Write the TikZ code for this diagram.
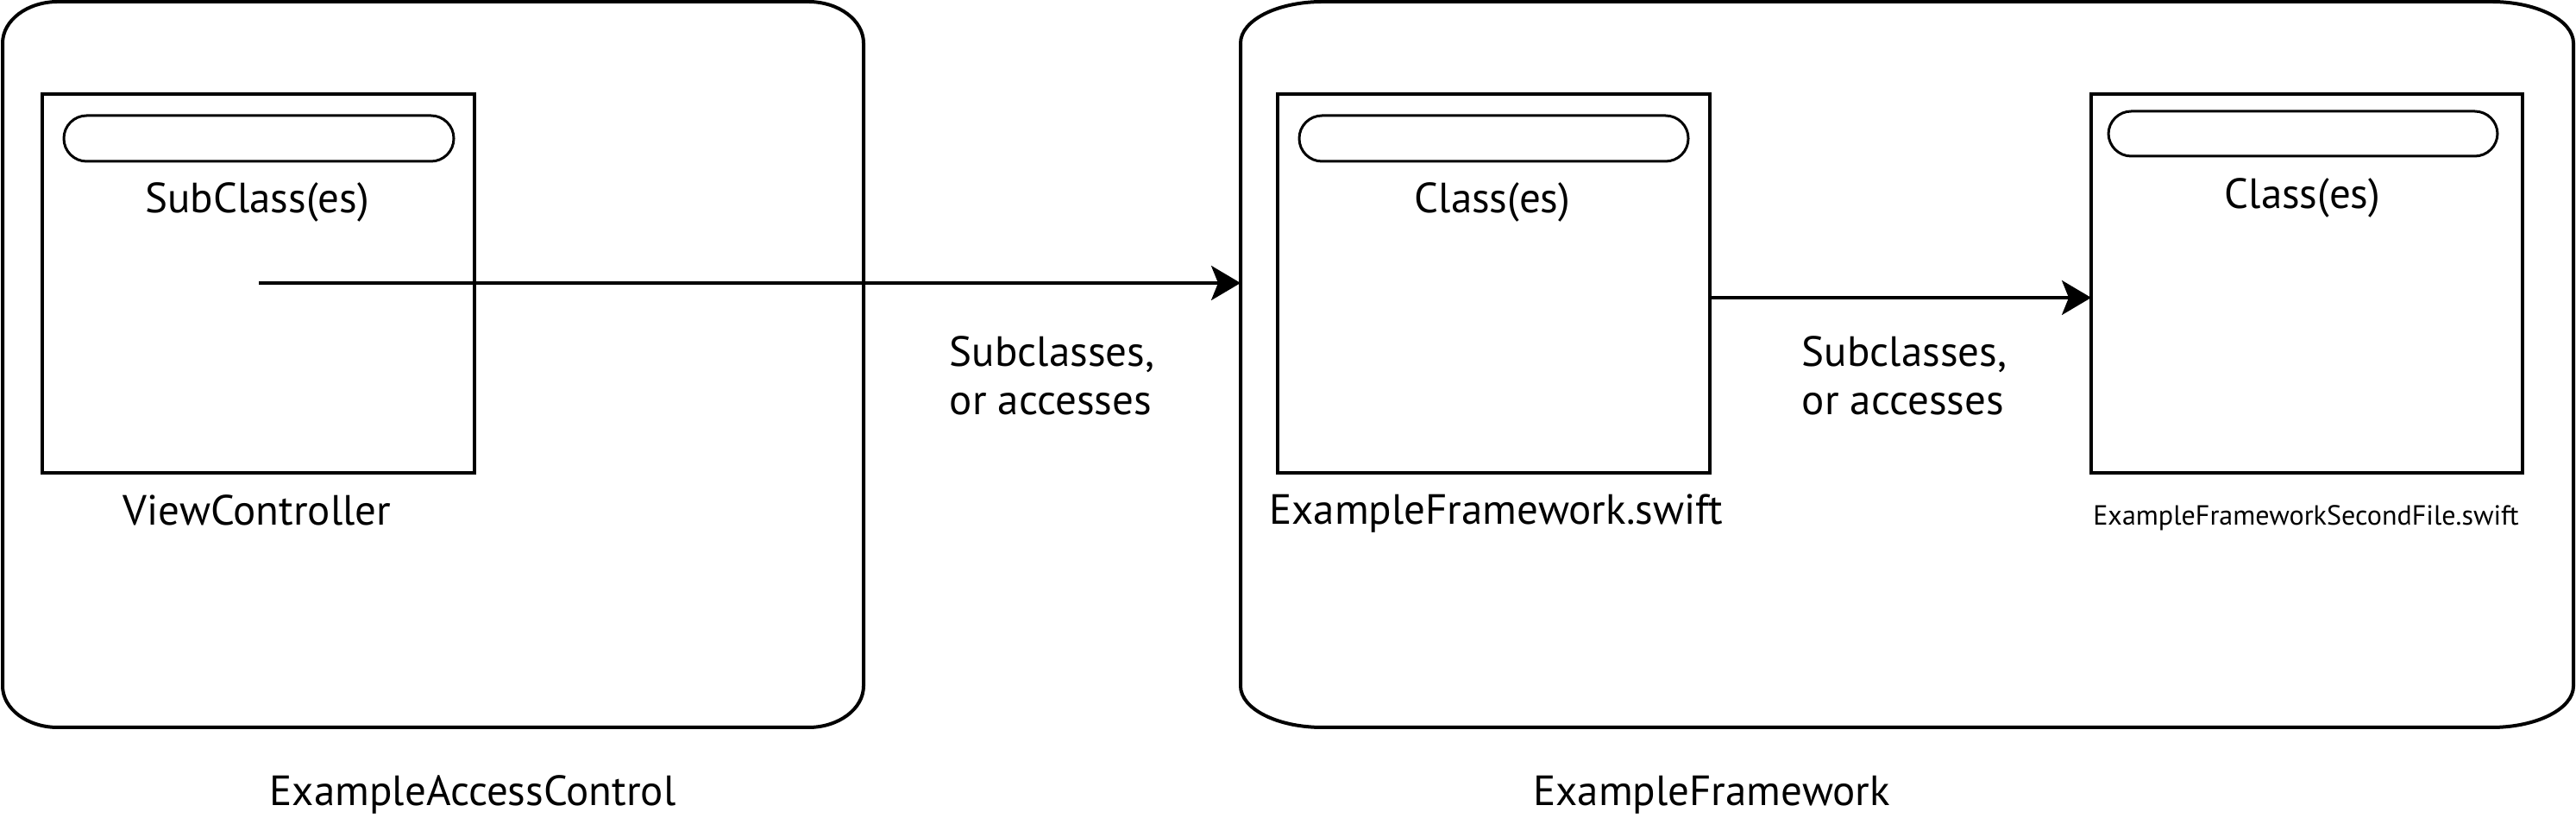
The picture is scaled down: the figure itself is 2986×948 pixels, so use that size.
\documentclass[tikz,border=0pt]{standalone}
\usepackage{fontspec}
\setmainfont{PT Sans}
\usetikzlibrary{arrows.meta}
\begin{document}
\begin{tikzpicture}[x=0.25pt,y=-0.25pt,
  framepath/.style={line width=1pt},
  framenode/.style={draw=none,inner sep=0pt,outer sep=0pt},
  filebox/.style={draw,line width=0.85pt,inner sep=0pt,outer sep=0pt,
    minimum width=125.25pt,minimum height=109.75pt},
  pill/.style={draw,line width=0.75pt,inner sep=0pt,outer sep=0pt,
    minimum width=113pt,minimum height=13.25pt,rounded corners=6.6pt},
  lbl/.style={inner sep=0pt,anchor=base,font=\fontsize{12.25pt}{14pt}\selectfont},
  smalllbl/.style={inner sep=0pt,anchor=base,font=\fontsize{8.02pt}{9pt}\selectfont},
  conn/.style={line width=0.85pt,-{Stealth[length=8.5pt,width=10pt,inset=2pt]}}]
\useasboundingbox (0,0) rectangle (2986,948);
% outer frames (named nodes + elliptical-corner outlines)
\node[framenode,minimum width=249.5pt,minimum height=210.25pt] (app) at (502,422.5) {};
\node[framenode,minimum width=386.25pt,minimum height=210.25pt] (fw) at (2210.5,422.5) {};
\draw[framepath] (67,2) -- (937,2) .. controls (972.3,2) and (1001,23.5) .. (1001,50)
  -- (1001,795) .. controls (1001,821.5) and (972.3,843) .. (937,843)
  -- (67,843) .. controls (31.7,843) and (3,821.5) .. (3,795)
  -- (3,50) .. controls (3,23.5) and (31.7,2) .. cycle;
\draw[framepath] (1533,2) -- (2888,2) .. controls (2940.5,2) and (2983,23.5) .. (2983,50)
  -- (2983,795) .. controls (2983,821.5) and (2940.5,843) .. (2888,843)
  -- (1533,843) .. controls (1480.5,843) and (1438,821.5) .. (1438,795)
  -- (1438,50) .. controls (1438,23.5) and (1480.5,2) .. cycle;
% file boxes
\node[filebox] (vc) at (299.5,328.5) {};
\node[filebox] (ef) at (1731.5,328.5) {};
\node[filebox,minimum width=125pt] (sf) at (2674,328.5) {};
% pills
\node[pill] (vcpill) at (300,160.5) {};
\node[pill,minimum width=112.75pt] (efpill) at (1731.5,160.5) {};
\node[pill,minimum width=112.75pt,minimum height=13pt] (sfpill) at (2669.5,155) {};
% texts
\node[lbl] (vccls) at (298,247) {SubClass(es)};
\node[lbl] (vcname) at (298,609) {ViewController};
\node[lbl] (appname) at (548,934) {ExampleAccessControl};
\node[lbl] (efcls) at (1730,247) {Class(es)};
\node[lbl] (sfcls) at (2669,242) {Class(es)};
\node[lbl] (efname) at (1734,608) {ExampleFramework.swift};
\node[smalllbl] (sfname) at (2673,609) {ExampleFrameworkSecondFile.swift};
\node[lbl] (fwname) at (1984,934) {ExampleFramework};
\node[lbl,anchor=base west] (rel1) at (1100,425)
  {\vtop{\baselineskip=14pt\hbox{Subclasses,}\hbox{or accesses}}};
\node[lbl,anchor=base west] (rel2) at (2088,425)
  {\vtop{\baselineskip=14pt\hbox{Subclasses,}\hbox{or accesses}}};
% connectors
\coordinate (a1) at (300,328);
\draw[conn] (a1) -- (a1 -| fw.west);
\draw[conn] ([yshift=-4.125pt]ef.east) -- ([yshift=-4.125pt]sf.west);
\end{tikzpicture}
\end{document}
